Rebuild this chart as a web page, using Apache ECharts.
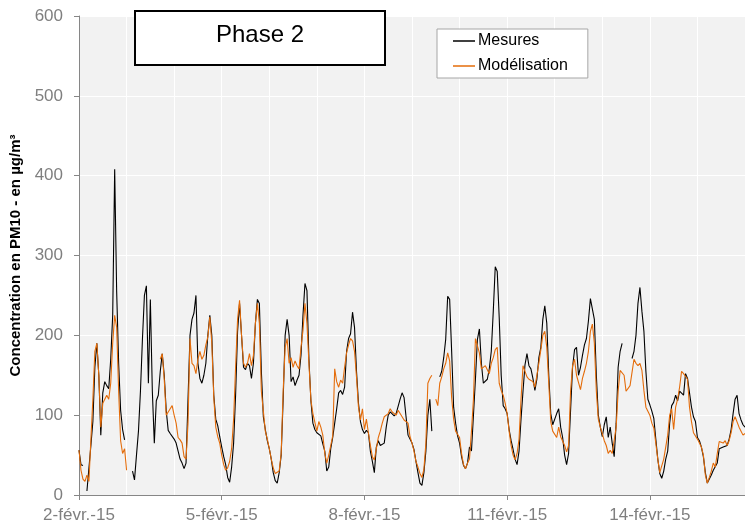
<!DOCTYPE html>
<html>
<head>
<meta charset="utf-8">
<title>PM10 - Phase 2</title>
<script src="https://cdn.jsdelivr.net/npm/echarts@6/dist/echarts.min.js"></script>
<style>
  html, body { margin: 0; padding: 0; background: #ffffff; }
  #chart { width: 745px; height: 532px; }
</style>
</head>
<body>
<div id="chart"></div>
<script>
// Hourly PM10 concentrations (µg/m³), one row per day, from 2 Feb 2015 00:00 to 16 Feb 2015 00:00
const mesures = [
  56,38,37,null,5,6,62,92,160,190,150,75,128,142,137,133,170,225,408,255,165,106,82,69,
  null,null,null,30,19,50,80,130,195,250,262,140,245,130,65,118,125,155,177,150,106,81,77,77,
  70,65,55,45,40,33,40,120,200,220,228,250,165,146,140,150,165,200,225,200,125,95,87,73,
  60,48,38,22,16,35,65,125,205,240,200,160,157,165,162,146,165,215,245,240,155,98,82,68,
  58,45,28,18,15,28,50,120,200,220,200,142,148,137,144,150,175,225,265,256,170,118,90,82,
  78,79,74,64,55,30,35,58,72,90,108,128,131,126,135,180,196,202,229,210,155,115,92,82,
  77,81,78,55,42,28,60,68,62,60,65,85,100,104,102,99,102,104,120,128,122,98,75,70,
  65,57,42,28,15,12,28,55,100,120,80,null,null,null,148,155,172,195,249,245,180,110,90,74,
  65,48,37,33,40,60,55,100,145,195,208,165,140,140,145,158,180,230,286,280,222,150,112,108,
  102,82,68,57,45,38,55,95,130,163,177,162,158,146,131,145,172,185,220,237,215,150,102,88,
  86,102,108,85,72,50,38,52,106,160,182,185,150,160,175,188,196,218,246,246,220,150,100,85,
  73,88,98,72,85,65,48,90,160,180,190,null,null,null,null,171,180,200,240,260,230,205,155,120,
  113,105,96,70,45,27,21,30,45,55,90,112,116,125,118,130,131,125,152,146,128,110,98,92,
  72,68,60,48,28,15,17,25,31,30,40,58,60,60,60,62,70,82,102,120,125,102,94,88,
  85
];

const modelisation = [
  56,31,20,17,25,17,70,120,180,190,150,85,115,120,125,120,140,190,225,210,130,68,52,58,
  31,null,null,null,null,null,null,null,null,null,null,null,null,null,null,null,null,170,177,145,100,102,108,112,
  100,90,72,69,65,48,45,90,196,165,162,152,170,180,170,175,188,198,223,190,122,85,73,65,
  50,38,31,34,42,58,95,160,220,244,200,165,160,165,177,162,175,215,240,215,130,105,80,70,
  58,45,34,27,26,30,52,130,185,196,165,172,160,168,162,158,185,206,240,215,165,119,102,100,
  80,92,85,75,52,40,50,62,74,158,142,135,144,140,160,178,188,196,193,180,148,110,94,108,
  82,95,78,62,48,44,58,72,80,90,98,100,102,108,104,102,100,106,102,98,94,96,90,73,
  65,55,42,35,27,22,32,65,140,146,150,null,120,112,140,148,158,165,178,168,122,95,80,78,
  72,52,38,33,40,45,80,120,196,195,178,158,160,162,160,152,165,172,182,185,140,131,125,115,
  102,80,62,50,44,52,70,120,162,160,148,145,145,142,135,137,165,182,200,205,185,140,92,80,
  82,72,85,73,72,62,54,62,130,162,170,150,152,132,146,155,165,180,205,214,190,130,95,85,
  77,68,62,52,56,52,50,85,130,156,156,150,130,128,137,135,170,165,162,165,156,131,110,105,
  100,90,84,65,45,28,30,45,60,75,100,108,82,110,120,135,155,152,154,145,110,92,78,80,
  70,68,60,50,25,15,22,30,40,35,52,67,65,65,68,62,68,78,92,98,96,85,80,75,
  77
];

// Date labels shown every third day (every 72 hours)
const tickLabels = ['2-févr.-15', '5-févr.-15', '8-févr.-15', '11-févr.-15', '14-févr.-15'];
const seriesNames = ['Mesures', 'Modélisation'];

const hours = mesures.map((_, i) => i);
const FONT = '"Liberation Sans", Arial, sans-serif';
const AXIS_GREY = '#868686';
const LABEL_GREY = '#7f7f7f';

const chart = echarts.init(document.getElementById('chart'), null, { renderer: 'canvas' });

chart.setOption({
  animation: false,
  backgroundColor: '#ffffff',
  textStyle: { fontFamily: FONT },
  grid: {
    left: 79, right: 0, top: 16, bottom: 37,
    show: true, backgroundColor: '#f2f2f2', borderWidth: 0
  },
  legend: {
    data: seriesNames,
    orient: 'vertical',
    left: 437, top: 29,
    padding: [4, 20, 4, 16],
    itemGap: 9,
    icon: 'rect',
    itemWidth: 22, itemHeight: 1.5,
    backgroundColor: '#ffffff',
    borderColor: '#a6a6a6', borderWidth: 1,
    borderRadius: 0,
    textStyle: { fontFamily: FONT, fontSize: 16, color: '#000000', padding: [0, 0, 0, -2] }
  },
  xAxis: {
    type: 'category',
    data: hours,
    boundaryGap: false,
    axisLine: { show: true, lineStyle: { color: AXIS_GREY, width: 1 } },
    axisTick: { show: true, interval: 71, length: 5, lineStyle: { color: AXIS_GREY } },
    axisLabel: {
      interval: 71,
      margin: 12,
      fontSize: 17,
      color: LABEL_GREY,
      fontFamily: FONT,
      formatter: (v, idx) => (idx % 72 === 0 ? (tickLabels[idx / 72] || '') : '')
    },
    splitLine: { show: true, interval: 23, lineStyle: { color: '#ffffff', width: 1 } }
  },
  yAxis: {
    type: 'value',
    min: 0, max: 600, interval: 100,
    name: 'Concentration en PM10 - en µg/m³',
    nameLocation: 'middle',
    nameGap: 50,
    nameTextStyle: { fontFamily: FONT, fontSize: 15, fontWeight: 'bold', color: '#000000' },
    axisLine: { show: true, lineStyle: { color: AXIS_GREY, width: 1 } },
    axisTick: { show: true, length: 5, lineStyle: { color: AXIS_GREY } },
    axisLabel: { margin: 16, fontSize: 17, color: LABEL_GREY, fontFamily: FONT },
    splitLine: { show: true, lineStyle: { color: '#ffffff', width: 1 } }
  },
  series: [
    {
      name: seriesNames[0],
      type: 'line',
      data: mesures,
      symbol: 'none',
      connectNulls: false,
      lineStyle: { color: '#000000', width: 1.1 },
      itemStyle: { color: '#000000' },
      z: 2
    },
    {
      name: seriesNames[1],
      type: 'line',
      data: modelisation,
      symbol: 'none',
      connectNulls: false,
      lineStyle: { color: '#e46c0a', width: 1.1 },
      itemStyle: { color: '#e46c0a' },
      z: 3
    }
  ],
  graphic: [
    {
      type: 'group',
      left: 134, top: 10,
      z: 100,
      children: [
        {
          type: 'rect',
          z: 100,
          shape: { x: 0, y: 0, width: 250, height: 54 },
          style: { fill: '#ffffff', stroke: '#000000', lineWidth: 2 }
        },
        {
          type: 'text',
          z: 101,
          x: 125, y: 24,
          style: {
            text: 'Phase 2',
            font: '24px ' + FONT,
            fill: '#000000',
            align: 'center',
            verticalAlign: 'middle'
          }
        }
      ]
    }
  ]
});
</script>
</body>
</html>
